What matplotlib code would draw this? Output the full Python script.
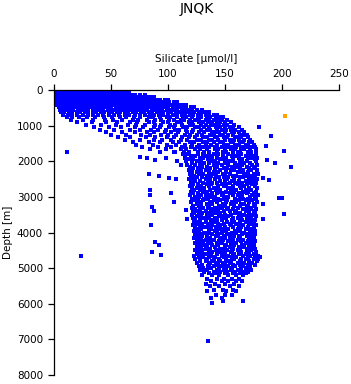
import matplotlib
matplotlib.use("Agg")
import matplotlib.pyplot as plt

# Depth rows (m) and silicate values (umol/l)
row_depth = [0, 60, 130, 200, 270, 340, 410, 480, 550, 620, 690, 760, 830, 900, 970,
             1040, 1110, 1180, 1250, 1320, 1390, 1460, 1530, 1600, 1670, 1740,
             1800, 1850, 1900, 1950, 2000, 2050, 2100, 2150, 2200, 2250, 2300, 2350,
             2400, 2450, 2500, 2550, 2600, 2650, 2700, 2750, 2800, 2850, 2900, 2950,
             3000, 3050, 3100, 3150, 3200, 3250, 3300, 3350, 3400, 3450, 3500, 3550,
             3600, 3650, 3700, 3750, 3800, 3850, 3900, 3950, 4000, 4050, 4100, 4150,
             4200, 4250, 4300, 4350, 4400, 4450, 4500, 4550, 4600, 4650, 4700, 4750,
             4800, 4850, 4900, 4950, 5000, 5050, 5100, 5150, 5200, 5300, 5350, 5450,
             5500, 5600, 5650, 5750, 5850, 5920, 5980, 7050]

row_silicate = [
    [0, 3, 5, 8, 11, 14, 17, 19, 22, 25, 28, 31, 33, 36, 39, 42, 45, 48, 50, 53, 56, 59, 62],
    [1, 4, 7, 9, 12, 15, 18, 21, 24, 26, 29, 32, 35, 38, 41, 44, 46, 49, 52, 55, 58, 61, 64, 66],
    [0, 2, 5, 8, 11, 14, 16, 19, 22, 25, 28, 30, 33, 36, 39, 42, 45, 47, 50, 53, 56, 59, 62, 65, 68, 71, 75, 80],
    [1, 4, 7, 10, 13, 15, 18, 21, 24, 27, 30, 32, 35, 38, 41, 44, 47, 50, 52, 55, 58, 61, 64, 67, 70, 73, 76, 79, 82, 85, 88],
    [2, 4, 7, 10, 13, 16, 19, 22, 25, 28, 31, 34, 37, 40, 43, 46, 49, 51, 54, 57, 60, 63, 66, 69, 72, 75, 78, 81, 84, 87, 90, 93, 97, 100],
    [2, 5, 8, 11, 14, 17, 20, 23, 26, 29, 32, 35, 38, 41, 44, 47, 50, 53, 56, 59, 62, 65, 68, 71, 74, 77, 80, 83, 86, 89, 92, 95, 98, 101, 105, 108],
    [3, 6, 9, 12, 15, 18, 21, 24, 27, 30, 33, 36, 39, 42, 45, 48, 51, 54, 57, 60, 63, 66, 69, 72, 75, 78, 81, 84, 87, 90, 93, 96, 99, 102, 105, 109, 112, 116],
    [4, 7, 10, 13, 16, 19, 22, 25, 29, 32, 35, 38, 41, 44, 47, 50, 54, 57, 60, 63, 66, 69, 72, 75, 79, 82, 85, 88, 91, 94, 97, 100, 104, 107, 110, 113, 116, 120, 123],
    [5, 8, 11, 14, 17, 21, 24, 27, 30, 34, 37, 40, 43, 47, 50, 53, 56, 60, 63, 66, 69, 73, 76, 79, 82, 86, 89, 92, 95, 99, 102, 105, 108, 112, 115, 118, 121, 125, 130],
    [6, 9, 13, 16, 20, 23, 27, 30, 34, 37, 41, 44, 48, 51, 55, 58, 62, 65, 69, 72, 76, 79, 83, 86, 90, 93, 96, 100, 103, 107, 110, 113, 117, 120, 123, 127, 130, 133, 136],
    [8, 12, 16, 20, 25, 30, 34, 39, 43, 48, 53, 57, 62, 66, 71, 75, 80, 84, 88, 92, 96, 100, 104, 108, 112, 115, 119, 122, 126, 129, 133, 136, 140, 143],
    [11, 16, 22, 29, 36, 44, 51, 58, 63, 70, 75, 83, 87, 93, 99, 102, 108, 113, 116, 121, 126, 129, 134, 137, 142, 145, 148],
    [15, 25, 34, 45, 52, 60, 69, 74, 82, 89, 94, 101, 105, 111, 114, 119, 124, 127, 133, 136, 140, 144, 147, 152],
    [20, 33, 46, 55, 67, 73, 83, 88, 96, 100, 108, 111, 118, 121, 127, 131, 135, 139, 143, 146, 150, 155],
    [28, 41, 54, 65, 72, 80, 89, 94, 102, 106, 112, 119, 122, 129, 133, 138, 141, 145, 149, 152, 158],
    [35, 48, 59, 71, 78, 88, 93, 101, 105, 113, 117, 124, 127, 132, 136, 142, 146, 150, 154, 157, 162],
    [40, 53, 67, 75, 85, 91, 98, 106, 110, 116, 122, 129, 134, 137, 143, 147, 151, 155, 159, 165],
    [46, 60, 71, 82, 88, 97, 103, 109, 117, 121, 127, 132, 139, 141, 145, 150, 156, 158, 162, 167],
    [50, 63, 76, 84, 94, 100, 107, 115, 119, 125, 130, 137, 140, 146, 148, 153, 157, 163, 166, 169],
    [56, 67, 81, 89, 99, 105, 112, 118, 124, 131, 134, 141, 143, 149, 152, 159, 161, 164, 170],
    [62, 75, 88, 95, 103, 111, 117, 125, 129, 136, 139, 144, 150, 154, 158, 162, 167, 172],
    [69, 83, 93, 104, 110, 119, 123, 131, 134, 140, 146, 148, 155, 157, 163, 166, 171, 174],
    [72, 87, 99, 107, 115, 121, 127, 133, 138, 143, 149, 153, 159, 162, 168, 170, 175],
    [77, 91, 103, 112, 120, 125, 131, 136, 141, 147, 152, 156, 160, 165, 169, 174, 176],
    [84, 98, 111, 116, 124, 128, 134, 141, 144, 150, 155, 159, 164, 167, 172, 177],
    [93, 106, 114, 118, 126, 132, 136, 143, 148, 151, 157, 161, 163, 170, 173, 177],
    [113, 117, 126, 131, 140, 144, 153, 161, 164, 172, 177],
    [120, 124, 133, 137, 148, 156, 159, 168, 175],
    [115, 128, 131, 139, 143, 151, 162, 170, 173, 178],
    [118, 122, 135, 146, 149, 157, 165, 176],
    [116, 125, 129, 138, 141, 152, 155, 163, 169, 177],
    [121, 132, 136, 144, 150, 159, 167, 172],
    [117, 124, 128, 140, 147, 153, 162, 165, 174, 178],
    [119, 130, 134, 143, 156, 160, 169, 176],
    [122, 126, 137, 141, 149, 152, 163, 171, 175],
    [118, 129, 133, 146, 155, 158, 166, 173, 178],
    [121, 125, 136, 140, 144, 151, 161, 164, 170],
    [119, 127, 131, 139, 148, 154, 167, 175, 179],
    [123, 134, 138, 142, 150, 157, 160, 169, 173],
    [120, 125, 130, 145, 149, 153, 163, 166, 176],
    [118, 122, 133, 137, 141, 152, 158, 171, 174, 178],
    [124, 128, 135, 146, 150, 156, 162, 168, 175],
    [120, 131, 139, 143, 154, 159, 165, 172, 177],
    [122, 126, 134, 138, 147, 151, 161, 169, 174],
    [119, 129, 136, 144, 149, 157, 163, 167, 176],
    [121, 125, 132, 140, 153, 156, 164, 171, 178],
    [123, 128, 137, 142, 146, 155, 160, 168, 173],
    [120, 131, 134, 145, 151, 158, 166, 170, 177],
    [122, 126, 139, 143, 148, 154, 162, 169, 175],
    [119, 129, 133, 136, 147, 157, 161, 165, 174, 179],
    [124, 127, 138, 141, 150, 153, 163, 172, 176],
    [121, 132, 135, 144, 149, 159, 166, 170, 177],
    [123, 126, 131, 140, 146, 152, 162, 168, 174],
    [120, 128, 137, 143, 151, 156, 160, 171, 178],
    [125, 129, 134, 139, 148, 155, 164, 167, 175],
    [122, 127, 136, 145, 150, 158, 163, 170, 176],
    [121, 131, 135, 141, 147, 153, 161, 169, 173],
    [124, 128, 138, 144, 152, 157, 166, 172, 177],
    [122, 126, 133, 140, 149, 154, 160, 168, 175],
    [123, 130, 137, 142, 146, 159, 163, 171, 176],
    [121, 127, 134, 139, 150, 155, 162, 167, 174],
    [125, 129, 136, 145, 148, 153, 164, 170, 177],
    [122, 132, 135, 141, 151, 157, 161, 169, 173],
    [124, 128, 138, 143, 147, 156, 165, 172, 176],
    [123, 126, 133, 140, 152, 158, 163, 168, 175],
    [125, 130, 137, 144, 149, 154, 160, 171, 174],
    [122, 128, 135, 139, 146, 155, 162, 166, 177],
    [124, 131, 134, 142, 150, 157, 164, 170, 175],
    [126, 129, 138, 145, 148, 153, 161, 168, 173],
    [123, 127, 136, 141, 151, 159, 163, 172, 176],
    [125, 132, 135, 143, 147, 156, 160, 167, 174],
    [124, 128, 139, 144, 152, 155, 165, 170, 176],
    [126, 130, 134, 142, 149, 158, 162, 169, 173],
    [123, 129, 137, 146, 150, 154, 163, 171, 175],
    [125, 133, 136, 140, 148, 157, 161, 166, 174],
    [127, 131, 138, 145, 153, 156, 164, 170, 176],
    [124, 128, 135, 143, 147, 155, 160, 168, 173],
    [126, 132, 139, 144, 151, 158, 165, 171, 175],
    [125, 129, 134, 141, 150, 154, 162, 167, 174],
    [127, 133, 137, 146, 149, 157, 163, 170, 176],
    [124, 130, 136, 142, 152, 156, 161, 169, 173],
    [126, 128, 139, 145, 148, 155, 164, 171, 177],
    [125, 132, 135, 143, 150, 158, 162, 168, 175],
    [123, 129, 138, 147, 153, 157, 166, 172, 179],
    [127, 131, 136, 141, 149, 156, 160, 170, 176, 181],
    [124, 134, 140, 145, 151, 158, 164, 168, 175, 179],
    [128, 133, 139, 146, 152, 155, 163, 171, 178],
    [125, 137, 142, 148, 154, 161, 167, 174],
    [130, 136, 144, 150, 157, 163, 170, 176],
    [127, 135, 140, 147, 153, 159, 166, 172],
    [131, 138, 145, 151, 156, 164, 169],
    [128, 134, 143, 149, 155, 161, 168, 173],
    [132, 140, 146, 152, 159, 165, 170],
    [136, 142, 150, 157, 163, 168],
    [130, 139, 145, 153, 160, 166],
    [134, 143, 149, 156, 162],
    [138, 147, 153, 160, 165],
    [133, 141, 150, 158],
    [137, 145, 154, 162],
    [140, 148, 157],
    [134, 151, 160],
    [142, 150, 156],
    [138, 147],
    [148, 166],
    [139],
    [135],
]

# Isolated points
extra_silicate = [11, 24, 75, 82, 89, 98, 105, 108, 111, 83, 92, 101, 107, 84, 84, 103,
                  105, 86, 88, 116, 117, 85, 89, 92, 86, 94, 180, 190, 186, 202, 208,
                  194, 189, 183, 197, 200, 202, 183, 183, 187]
extra_depth = [1730, 4650, 1880, 1910, 1960, 1910, 1750, 2000, 2100, 2360, 2410, 2470,
               2500, 2800, 2950, 2890, 3140, 3280, 3400, 3370, 3620, 3790, 4270, 4350,
               4550, 4630, 1040, 1290, 1570, 1710, 2160, 2050, 2530, 2470, 3030, 3030,
               3480, 3200, 3630, 1960]

# Flagged (orange) sample
flag_silicate = [203]
flag_depth = [730]

x_ticks = [0, 50, 100, 150, 200, 250]
y_ticks = [0, 1000, 2000, 3000, 4000, 5000, 6000, 7000, 8000]

sil = []
dep = []
for d, row in zip(row_depth, row_silicate):
    sil.extend(row)
    dep.extend([d] * len(row))
sil += extra_silicate
dep += extra_depth

plt.rcParams['font.family'] = ['DejaVu Sans']

fig = plt.figure(figsize=(3.51, 3.84), dpi=100)
ax = fig.add_axes([54 / 351, 9 / 384, 285 / 351, 285 / 384])
ax.scatter(sil, dep, s=5, marker='s', color='#0000ff', linewidths=0)
ax.scatter(flag_silicate, flag_depth, s=5, marker='s', color='#ffa500', linewidths=0)

ax.set_xlim(0, 250)
ax.set_ylim(8000, 0)
ax.xaxis.tick_top()
ax.xaxis.set_label_position('top')
ax.spines['right'].set_visible(False)
ax.spines['bottom'].set_visible(False)
for sp in ('left', 'top'):
    ax.spines[sp].set_linewidth(0.9)
ax.set_xticks(x_ticks)
ax.set_yticks(y_ticks)
ax.tick_params(direction='out', length=4, width=0.9, labelsize=7.5, pad=4)
ax.set_xlabel('Silicate [µmol/l]', fontsize=7.5, labelpad=5)
ax.set_ylabel('Depth [m]', fontsize=7.5, labelpad=3)
fig.text(197 / 351, 1 - 9 / 384, 'JNQK', ha='center', va='center', fontsize=10)

fig.savefig('out.png', dpi=100)
